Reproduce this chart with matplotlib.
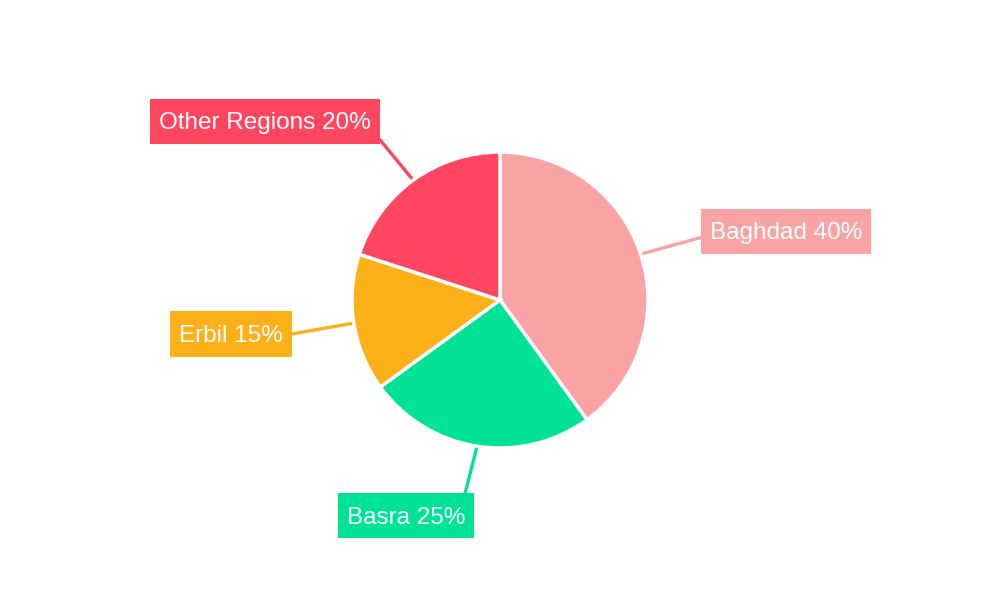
import numpy as np
import matplotlib
matplotlib.use("Agg")
import matplotlib.pyplot as plt
from matplotlib.path import Path

regions = ["Baghdad", "Basra", "Erbil", "Other Regions"]
shares = [40, 25, 15, 20]
colors = ["#F9A3A4", "#00E396", "#FEB019", "#FF4560"]

# label box centres in pixel coords (y down) and where the leader line meets the box
label_pos = [(786, 231.5), (406, 515.5), (231, 334), (265, 121.5)]
line_rel = [(0, 0.43), (0.97, 1), (1, 0.52), (1, 0.26)]

plt.rcParams['font.family'] = ['Liberation Sans', 'DejaVu Sans']


def label_box(x0, y0, width, height, mutation_size):
    # plain rectangle, taller than the square style, text sitting a bit lower
    px = 0.36 * mutation_size
    pb = 0.36 * mutation_size + 1
    pt = 0.36 * mutation_size + 5
    x0, y0 = x0 - px, y0 - pb
    x1, y1 = x0 + width + 2 * px, y0 + height + pb + pt
    return Path([(x0, y0), (x1, y0), (x1, y1), (x0, y1), (x0, y0)], closed=True)


fig = plt.figure(figsize=(10, 6), dpi=100)
ax = fig.add_axes([0, 0, 1, 1])

cx, cy, r = 500, 300, 148
wedges, _ = ax.pie(shares, colors=colors, startangle=90, counterclock=False,
                   center=(cx, cy), radius=r, frame=True,
                   wedgeprops=dict(edgecolor='white', linewidth=2.5))
ax.set_xlim(0, 1000)
ax.set_ylim(0, 600)
ax.set_aspect('equal')
ax.axis('off')

for w, name, val, col, pos, rel in zip(wedges, regions, shares, colors, label_pos, line_rel):
    ang = np.deg2rad((w.theta1 + w.theta2) / 2)
    pt = (cx + (r + 3) * np.cos(ang), cy + (r + 3) * np.sin(ang))
    ax.annotate(f"{name} {val}%", xy=pt, xytext=(pos[0], 600 - pos[1] - 2),
                ha='center', va='center', fontsize=17.5, color='white',
                bbox=dict(boxstyle=label_box, fc=col, ec='none'),
                arrowprops=dict(arrowstyle='-', color=col, lw=2.4,
                                relpos=rel, shrinkA=0, shrinkB=0))

fig.savefig("out.png", dpi=100)
